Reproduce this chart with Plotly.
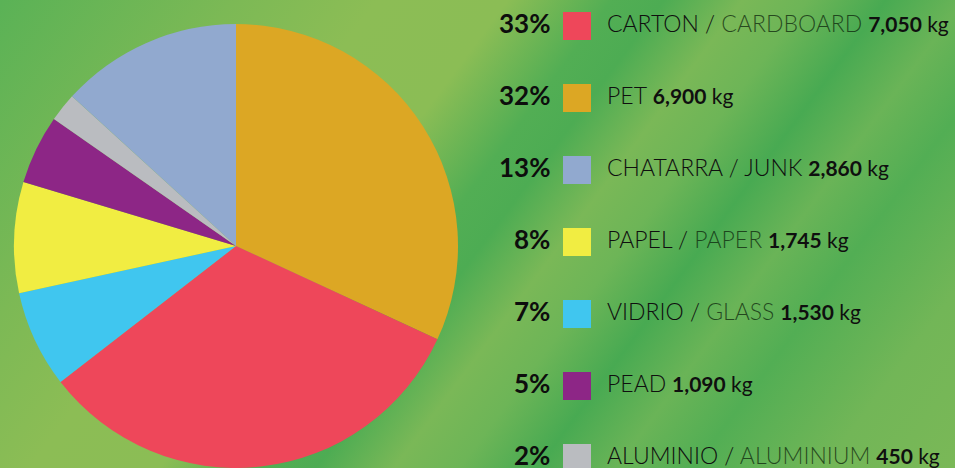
import base64
import plotly.graph_objects as go

# ---- data (legend order) ----
names_es = ["CARTON", "PET", "CHATARRA", "PAPEL", "VIDRIO", "PEAD", "ALUMINIO"]
names_en = ["CARDBOARD", "", "JUNK", "PAPER", "GLASS", "", "ALUMINIUM"]
en_dark = [False, False, True, False, False, False, False]
kg_values = [7050, 6900, 2860, 1745, 1530, 1090, 450]
pct_labels = ["33%", "32%", "13%", "8%", "7%", "5%", "2%"]
colors = ["#ee475a", "#dca724", "#91a9cf", "#f1ed42", "#40c6ef", "#8d2686", "#babcc0"]

# order of slices, clockwise from 12 o'clock
pie_order = ["PET", "CARTON", "VIDRIO", "PAPEL", "PEAD", "ALUMINIO", "CHATARRA"]

W, H = 955, 468
FONT = "Lato"

# ---- background gradient (decorative) ----
stops = [(0.00, "#5ab256"), (0.18, "#7cb955"), (0.29, "#8cbd55"), (0.39, "#8bbd55"),
         (0.47, "#52ae54"), (0.51, "#4dac53"), (0.57, "#7ab857"), (0.62, "#6db557"),
         (0.68, "#48aa52"), (0.74, "#6ab457"), (0.80, "#52ae54"), (0.90, "#72b657"),
         (1.00, "#7ab857")]
stop_svg = "".join(f'<stop offset="{o}" stop-color="{c}"/>' for o, c in stops)
svg = (f'<svg xmlns="http://www.w3.org/2000/svg" width="{W}" height="{H}" viewBox="0 0 {W} {H}">'
       f'<defs><linearGradient id="g" gradientUnits="userSpaceOnUse" x1="0" y1="0" x2="838" y2="624">'
       f'{stop_svg}</linearGradient></defs><rect width="{W}" height="{H}" fill="url(#g)"/></svg>')
bg_uri = "data:image/svg+xml;base64," + base64.b64encode(svg.encode()).decode()

idx = {n: i for i, n in enumerate(names_es)}
pie_vals = [kg_values[idx[n]] for n in pie_order]
pie_cols = [colors[idx[n]] for n in pie_order]

fig = go.Figure()
fig.add_trace(go.Pie(
    labels=pie_order, values=pie_vals, sort=False, direction="clockwise", rotation=0,
    marker=dict(colors=pie_cols, line=dict(width=0)), textinfo="none",
    hoverinfo="label+value+percent", showlegend=False,
    domain=dict(x=[14 / W, 458 / W], y=[0, 444 / H]),
))

rows = list(range(len(names_es)))
fig.add_trace(go.Scatter(
    x=[0.6042] * len(rows), y=rows, mode="markers",
    marker=dict(symbol="square", size=28, color=colors, line=dict(width=0)),
    showlegend=False, hoverinfo="skip",
))

annotations = []
for i in rows:
    annotations.append(dict(
        x=0.5775, y=i, xref="x", yref="y", xanchor="right", yanchor="middle", yshift=3,
        text=f"<b>{pct_labels[i]}</b>", showarrow=False,
        font=dict(family=FONT, size=26, color="#0d0d0d"),
    ))
    label = f'<span style="font-weight:300">{names_es[i]}'
    if names_en[i]:
        en_col = "#0f0f0f" if en_dark[i] else "rgba(10,30,10,0.72)"
        label += f' / </span><span style="font-weight:300;color:{en_col}">{names_en[i]}</span>'
    else:
        label += "</span>"
    label += (f' <span style="font-size:21px;font-weight:700">{kg_values[i]:,}</span>'
              f'<span style="font-size:21px;font-weight:400"> kg</span>')
    annotations.append(dict(
        x=0.6335, y=i, xref="x", yref="y", xanchor="left", yanchor="middle", yshift=3,
        text=label, showarrow=False,
        font=dict(family=FONT, size=23, color="#0f0f0f"),
    ))

fig.update_layout(
    width=W, height=H, margin=dict(l=0, r=0, t=0, b=0),
    paper_bgcolor="#6ab457", plot_bgcolor="rgba(0,0,0,0)",
    xaxis=dict(range=[0, 1], domain=[0, 1], visible=False, fixedrange=True),
    yaxis=dict(range=[(H - 26) / 72, -26 / 72], domain=[0, 1], visible=False, fixedrange=True),
    images=[dict(source=bg_uri, xref="paper", yref="paper", x=0, y=1, sizex=1, sizey=1,
                 sizing="stretch", layer="below", xanchor="left", yanchor="top")],
    annotations=annotations,
    font=dict(family=FONT),
)

fig.write_html("out.html")
